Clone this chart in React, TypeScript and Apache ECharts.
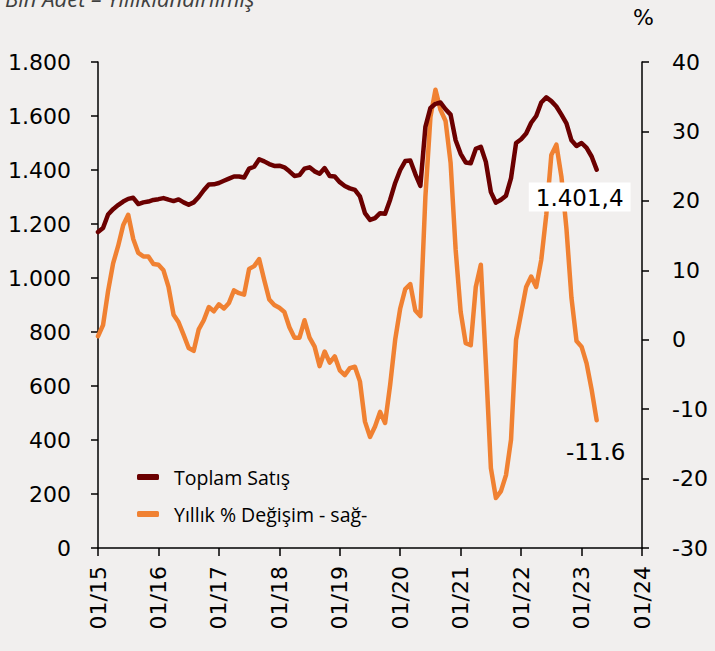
import React, { useEffect, useRef } from "react";
import * as echarts from "echarts";

const titleText = "Bin Adet – Yıllıklandırılmış";
const seriesNames = ["Toplam Satış", "Yıllık % Değişim - sağ-"];

// monthly categories 01/15 .. 01/24
const categories: string[] = [];
for (let y = 15; y <= 24; y++) {
  for (let m = 1; m <= 12; m++) {
    if (y === 24 && m > 1) break;
    categories.push(String(m).padStart(2, "0") + "/" + y);
  }
}

const totalSales = [
  1170, 1185, 1235, 1255, 1270, 1283, 1293, 1297, 1274, 1280, 1283, 1289,
  1292, 1296, 1290, 1285, 1291, 1280, 1271, 1280, 1300, 1325, 1346, 1347,
  1352, 1360, 1368, 1376, 1376, 1372, 1405, 1412, 1440, 1432, 1422, 1415,
  1416, 1410, 1395, 1378, 1381, 1405, 1410, 1395, 1386, 1407, 1378, 1376,
  1355, 1341, 1332, 1326, 1302, 1240, 1215, 1222, 1240, 1238, 1290, 1352,
  1400, 1433, 1435, 1385, 1341, 1560, 1630, 1645, 1650, 1625, 1605, 1510,
  1460, 1428, 1425, 1478, 1486, 1430, 1318, 1279, 1290, 1305, 1370, 1500,
  1514, 1535, 1575, 1600, 1650, 1669, 1655, 1635, 1605, 1573, 1510, 1489,
  1500, 1482, 1450, 1401.4,
];

const yoyChange = [
  0.5, 2.1, 7.0, 11.0, 13.5, 16.5, 18.0, 14.5, 12.5, 12.0, 12.0, 10.9,
  10.8, 10.0, 7.6, 3.6, 2.5, 0.7, -1.2, -1.6, 1.5, 2.8, 4.7, 4.1,
  5.1, 4.5, 5.3, 7.1, 6.7, 6.5, 10.2, 10.6, 11.6, 8.6, 5.8, 5.0,
  4.6, 4.0, 1.8, 0.3, 0.3, 2.8, 0.3, -1.0, -3.8, -1.7, -3.3, -2.4,
  -4.4, -5.1, -4.1, -3.9, -6.0, -11.8, -14.0, -12.5, -10.4, -12.0, -6.5, 0.0,
  4.5, 7.3, 8.0, 4.2, 3.4, 20.6, 32.1, 36.0, 33.1, 31.5, 25.5, 13.0,
  4.0, -0.5, -0.8, 7.6, 10.8, -3.4, -18.5, -22.8, -21.8, -19.5, -14.4, 0.0,
  3.8, 7.6, 9.1, 7.6, 11.5, 18.0, 26.6, 28.1, 23.5, 16.0, 6.0, -0.2,
  -1.0, -3.4, -7.2, -11.6,
];

const leftTicks = { min: 0, max: 1800, interval: 200 };
const rightTicks = { min: -30, max: 40, interval: 10 };

const fmtLeft = (v: number) =>
  v >= 1000 ? Math.floor(v / 1000) + "." + String(v % 1000).padStart(3, "0") : String(v);

export default function App() {
  const ref = useRef<HTMLDivElement>(null);
  useEffect(() => {
    if (!ref.current) return;
    const chart = echarts.init(ref.current, undefined, { renderer: "svg" });
    const axisFont = "DejaVu Sans";
    const lastIdx = totalSales.length - 1;
    const brownData = totalSales.map((v, i) =>
      i === lastIdx
        ? {
            value: v,
            label: {
              show: true,
              position: "bottom",
              distance: 13,
              offset: [-17, 0],
              formatter: "1.401,4",
              backgroundColor: "#ffffff",
              padding: [4, 7, 2, 7],
              color: "#000",
              fontSize: 23,
              fontFamily: axisFont,
            },
          }
        : v
    );
    const orangeData = yoyChange.map((v, i) =>
      i === yoyChange.length - 1
        ? {
            value: v,
            label: {
              show: true,
              position: "bottom",
              distance: 20,
              offset: [-1, 0],
              formatter: "-11.6",
              color: "#000",
              fontSize: 23,
              fontFamily: axisFont,
            },
          }
        : v
    );
    const janInterval = (index: number) => index % 12 === 0;
    chart.setOption({
      animation: false,
      backgroundColor: "#f1efee",
      textStyle: { fontFamily: axisFont },
      grid: { left: 98, right: 73, top: 62, bottom: 103 },
      graphic: [
        {
          type: "text",
          left: 5,
          top: -13,
          style: {
            text: titleText,
            fontSize: 22,
            fontStyle: "italic",
            fontFamily: "Open Sans",
            fill: "#404040",
          },
        },
        {
          type: "text",
          left: 633,
          top: 6,
          style: { text: "%", fontSize: 22, fontFamily: axisFont, fill: "#000" },
        },
      ],
      legend: {
        orient: "vertical",
        left: 132,
        top: 461,
        icon: "roundRect",
        itemWidth: 22,
        itemHeight: 6,
        itemGap: 15,
        data: seriesNames,
        textStyle: {
          fontFamily: "Open Sans",
          fontSize: 19.5,
          color: "#000",
          lineHeight: 22,
          padding: [0, 0, 0, 10],
        },
      },
      xAxis: {
        type: "category",
        data: categories,
        boundaryGap: false,
        axisLine: { lineStyle: { color: "#000", width: 1.5 } },
        axisTick: { interval: janInterval, length: 8, lineStyle: { color: "#000", width: 1.5 } },
        axisLabel: {
          interval: janInterval,
          rotate: 90,
          margin: 18,
          fontSize: 22,
          color: "#000",
          fontFamily: axisFont,
        },
        splitLine: { show: false },
      },
      yAxis: [
        {
          type: "value",
          position: "left",
          ...leftTicks,
          axisLine: { show: true, lineStyle: { color: "#000", width: 1.5 } },
          axisTick: { show: true, length: 7, lineStyle: { color: "#000", width: 1.5 } },
          axisLabel: {
            margin: 27,
            fontSize: 22,
            color: "#000",
            fontFamily: axisFont,
            formatter: fmtLeft,
          },
          splitLine: { show: false },
        },
        {
          type: "value",
          position: "right",
          ...rightTicks,
          axisLine: { show: true, lineStyle: { color: "#000", width: 1.5 } },
          axisTick: { show: true, length: 7, lineStyle: { color: "#000", width: 1.5 } },
          axisLabel: {
            margin: 30,
            fontSize: 22,
            color: "#000",
            fontFamily: axisFont,
          },
          splitLine: { show: false },
        },
      ],
      series: [
        {
          name: seriesNames[0],
          type: "line",
          yAxisIndex: 0,
          data: brownData,
          symbol: "circle",
          symbolSize: 0,
          showSymbol: true,
          showAllSymbol: true,
          z: 3,
          lineStyle: { color: "#6b0000", width: 4.5, cap: "round", join: "round" },
          itemStyle: { color: "#6b0000" },
        },
        {
          name: seriesNames[1],
          type: "line",
          yAxisIndex: 1,
          data: orangeData,
          symbol: "circle",
          symbolSize: 0,
          showSymbol: true,
          showAllSymbol: true,
          z: 2,
          lineStyle: { color: "#f08132", width: 4.5, cap: "round", join: "round" },
          itemStyle: { color: "#f08132" },
        },
      ],
    });
    return () => chart.dispose();
  }, []);
  return (
    <div
      ref={ref}
      style={{ position: "fixed", left: 0, top: 0, width: 715, height: 651 }}
    />
  );
}
